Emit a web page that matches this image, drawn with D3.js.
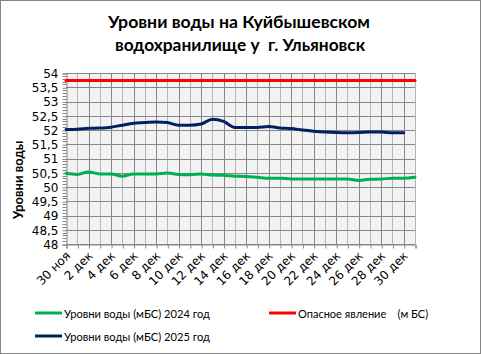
<!DOCTYPE html>
<html><head><meta charset="utf-8">
<script src="https://cdn.jsdelivr.net/npm/d3@7"></script>
<style>body{margin:0;background:#fff}svg{display:block}</style>
</head><body>
<script>
const categories = ["30 ноя","1 дек","2 дек","3 дек","4 дек","5 дек","6 дек","7 дек","8 дек","9 дек","10 дек","11 дек","12 дек","13 дек","14 дек","15 дек","16 дек","17 дек","18 дек","19 дек","20 дек","21 дек","22 дек","23 дек","24 дек","25 дек","26 дек","27 дек","28 дек","29 дек","30 дек","31 дек"];
const levels2024 = [50.48,50.44,50.53,50.46,50.46,50.38,50.46,50.46,50.46,50.49,50.44,50.43,50.46,50.42,50.41,50.38,50.37,50.34,50.31,50.31,50.28,50.28,50.28,50.28,50.28,50.28,50.23,50.27,50.28,50.31,50.31,50.34];
const levels2025 = [52.02,52.03,52.06,52.07,52.1,52.17,52.24,52.26,52.28,52.26,52.17,52.17,52.21,52.38,52.3,52.09,52.09,52.09,52.12,52.07,52.05,52.0,51.96,51.93,51.91,51.9,51.91,51.93,51.93,51.9,51.9];
const dangerLevel = categories.map(() => 53.74);
const yTicks = [48,48.5,49,49.5,50,50.5,51,51.5,52,52.5,53,53.5,54];
const titleLines = ["Уровни воды на Куйбышевском","водохранилище у  г. Ульяновск"];
const yTitle = "Уровни воды";
const legendItems = [
  {name:"Уровни воды (мБС) 2024 год", color:"#00b050"},
  {name:"Опасное явление    (м БС)", color:"#ff0000"},
  {name:"Уровни воды (мБС) 2025 год", color:"#002060"}
];

const W = 481, H = 354;
const svg = d3.select("body").append("svg").attr("width", W).attr("height", H);
svg.append("rect").attr("x",0.5).attr("y",0.5).attr("width",W-1).attr("height",H-1)
  .attr("fill","#fff").attr("stroke","#868686");

function fit(sel, target){
  const n = sel.node(); let fs = parseFloat(sel.attr("font-size"));
  for(let k=0;k<4;k++){ const w = n.getComputedTextLength(); fs = fs*target/w; sel.attr("font-size", fs); }
}

// title
const tf = "Lato, 'Open Sans', sans-serif";
const t1 = svg.append("text").attr("x",239).attr("y",28).attr("text-anchor","middle")
  .attr("font-family",tf).attr("font-weight","bold").attr("font-size",17).attr("fill","#000").text(titleLines[0]);
fit(t1, 262);
const t2 = svg.append("text").attr("x",240).attr("y",51).attr("text-anchor","middle").style("white-space","pre")
  .attr("font-family",tf).attr("font-weight","bold").attr("font-size",17).attr("fill","#000").text(titleLines[1]);
fit(t2, 250);

const x = d3.scaleLinear().domain([0, categories.length-1]).range([66, 415]);
const y = d3.scaleLinear().domain([48, 54]).range([244, 73]);

const g = svg.append("g");
g.append("rect").attr("x",66).attr("y",73).attr("width",349).attr("height",171).attr("fill","#f2f2f2");

// vertical gridlines
g.selectAll(".vg").data(categories.map((c,i)=>i).filter(i=>i>0)).join("line")
  .attr("x1",i=>Math.round(x(i))+0.5).attr("x2",i=>Math.round(x(i))+0.5)
  .attr("y1",73).attr("y2",244)
  .attr("stroke",i=> i%2===0 ? "#868686" : "#b4b4b4").attr("stroke-width",1);
// horizontal gridlines
g.selectAll(".hg").data(yTicks).join("line")
  .attr("x1",66).attr("x2",415)
  .attr("y1",d=>Math.round(y(d))+0.5).attr("y2",d=>Math.round(y(d))+0.5)
  .attr("stroke","#868686").attr("stroke-width",1);

// y axis
const yAxis = d3.axisLeft(y).tickValues(yTicks).tickSize(4).tickPadding(4)
  .tickFormat(d => String(d).replace(".", ","));
const ya = svg.append("g").attr("transform","translate(66.5,0.5)").call(yAxis);
const minor = d3.range(480, 541).map(v=>v/10).filter(v=>Math.abs(v*2-Math.round(v*2))>1e-6);
ya.selectAll(".minor").data(minor).join("line").attr("class","minor")
  .attr("x1",-4).attr("x2",0).attr("y1",d=>Math.round(y(d))).attr("y2",d=>Math.round(y(d)))
  .attr("stroke","#868686");
ya.select(".domain").attr("stroke","#868686");
ya.selectAll(".tick line").attr("stroke","#868686");
ya.selectAll("text").attr("font-family","'DejaVu Sans', sans-serif").attr("font-size",12).attr("fill","#000");

// x axis
const xAxis = d3.axisBottom(x).tickValues(d3.range(categories.length)).tickSize(4)
  .tickFormat(i => i%2===0 ? categories[i] : "");
const xa = svg.append("g").attr("transform","translate(0.5,244.5)").call(xAxis);
xa.select(".domain").attr("stroke","#868686");
xa.selectAll(".tick line").attr("stroke","#868686");
xa.selectAll("text").attr("font-family","'DejaVu Sans', sans-serif").attr("font-size",12).attr("fill","#000")
  .attr("text-anchor","end").attr("dy",0).attr("y",0)
  .attr("transform","translate(4,12) rotate(-45)");

// y title
svg.append("text").attr("transform","translate(23,180) rotate(-90)").attr("text-anchor","middle")
  .attr("font-family",tf).attr("font-weight","bold").attr("font-size",13).attr("fill","#000").text(yTitle);

// lines
const line = d3.line().x((d,i)=>x(i)).y(d=>y(d)).curve(d3.curveMonotoneX);
[[dangerLevel,"#ff0000"],[levels2024,"#00b050"],[levels2025,"#002060"]].forEach(([data,col])=>{
  svg.append("path").datum(data).attr("d",line).attr("fill","none").attr("stroke",col)
    .attr("stroke-width",3).attr("stroke-linejoin","round").attr("stroke-linecap","round");
});

// legend
const legPos = [[35,313],[269,313],[35,336]];
legendItems.forEach((it,k)=>{
  const [lx,ly] = legPos[k];
  svg.append("line").attr("x1",lx).attr("x2",lx+27).attr("y1",ly).attr("y2",ly)
    .attr("stroke",it.color).attr("stroke-width",3);
  const t = svg.append("text").attr("x",lx+29).attr("y",ly+4.5).style("white-space","pre")
    .attr("font-family",tf).attr("font-size",13).attr("fill","#000").text(it.name);
  fit(t, k===1 ? 130 : 146);
});
</script>
</body></html>
